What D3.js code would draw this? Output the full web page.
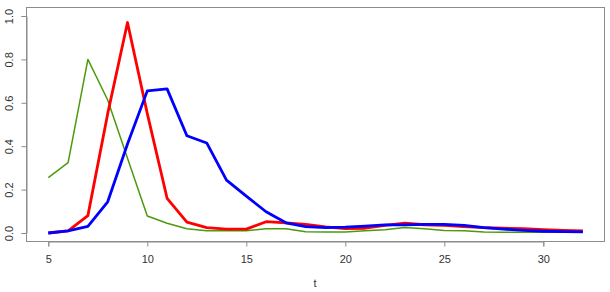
<!DOCTYPE html>
<html>
<head>
<meta charset="utf-8">
<script src="https://cdn.jsdelivr.net/npm/d3@7"></script>
<style>
  body { margin: 0; background: #fff; }
  svg { display: block; font-family: "Liberation Sans", Arial, sans-serif; }
</style>
</head>
<body>
<svg id="chart" width="610" height="292"></svg>
<script>
// DATA
const tValues = d3.range(5, 33); // t = 5 .. 32
const redValues = [0, 0.01, 0.08, 0.55, 0.97, 0.55, 0.16, 0.05, 0.025, 0.018, 0.018, 0.052, 0.047, 0.04,
  0.028, 0.02, 0.022, 0.035, 0.045, 0.038, 0.035, 0.03, 0.025, 0.022, 0.02, 0.015, 0.012, 0.01];
const blueValues = [0, 0.01, 0.03, 0.144, 0.41, 0.655, 0.664, 0.448, 0.415, 0.244, 0.17, 0.098, 0.047, 0.029,
  0.025, 0.027, 0.032, 0.037, 0.037, 0.04, 0.04, 0.035, 0.025, 0.018, 0.012, 0.008, 0.006, 0.005];
const greenValues = [0.255, 0.324, 0.8, 0.613, 0.345, 0.078, 0.045, 0.02, 0.01, 0.01, 0.01, 0.02, 0.02, 0.006,
  0.005, 0.005, 0.01, 0.015, 0.025, 0.02, 0.012, 0.01, 0.005, 0.003, 0.003, 0.003, 0.003, 0.003];
const xTicks = [5, 10, 15, 20, 25, 30];
const yTicks = [0, 0.2, 0.4, 0.6, 0.8, 1.0];

// SCALES
const svg = d3.select("#chart");
const x = d3.scaleLinear().domain([5, 30]).range([48.3, 543.3]);
const y = d3.scaleLinear().domain([0, 1]).range([233, 16]);

// Plot box
svg.append("rect")
  .attr("x", 26.5).attr("y", 7.5)
  .attr("width", 578).attr("height", 234)
  .attr("fill", "none").attr("stroke", "#8c8c8c").attr("stroke-width", 1);

// X axis (R style, below the box)
const xAxis = svg.append("g").attr("transform", "translate(0,241.5)")
  .call(d3.axisBottom(x).tickValues(xTicks).tickSize(5).tickPadding(9).tickFormat(d3.format("d")));
xAxis.select(".domain").attr("stroke", "#8c8c8c");
xAxis.selectAll(".tick line").attr("stroke", "#8c8c8c");
xAxis.selectAll("text").attr("font-size", 11).attr("fill", "#333").attr("font-family", null);

// Y axis with rotated labels
const yAxis = svg.append("g").attr("transform", "translate(26.5,0)")
  .call(d3.axisLeft(y).tickValues(yTicks).tickSize(5).tickFormat(d3.format(".1f")));
yAxis.select(".domain").attr("stroke", "#8c8c8c");
yAxis.selectAll(".tick line").attr("stroke", "#8c8c8c");
yAxis.selectAll("text")
  .attr("x", null).attr("dy", null)
  .attr("transform", "translate(-13.5,0) rotate(-90)")
  .attr("text-anchor", "middle")
  .attr("font-size", 11).attr("fill", "#333").attr("font-family", null);

// Axis title
svg.append("text")
  .attr("x", 315).attr("y", 287)
  .attr("text-anchor", "middle")
  .attr("font-size", 11).attr("fill", "#333")
  .text("t");

// LINES
const line = (vals) => d3.line()
  .x((d, i) => x(tValues[i]))
  .y(d => y(d))(vals);

const series = [
  {vals: greenValues, color: "#4c9a0c", width: 1.5},
  {vals: redValues, color: "#ff0000", width: 2.8},
  {vals: blueValues, color: "#0000ff", width: 2.8}
];

series.forEach(s => {
  svg.append("path")
    .attr("d", line(s.vals))
    .attr("fill", "none")
    .attr("stroke", s.color)
    .attr("stroke-width", s.width)
    .attr("stroke-linejoin", "round");
});
</script>
</body>
</html>
